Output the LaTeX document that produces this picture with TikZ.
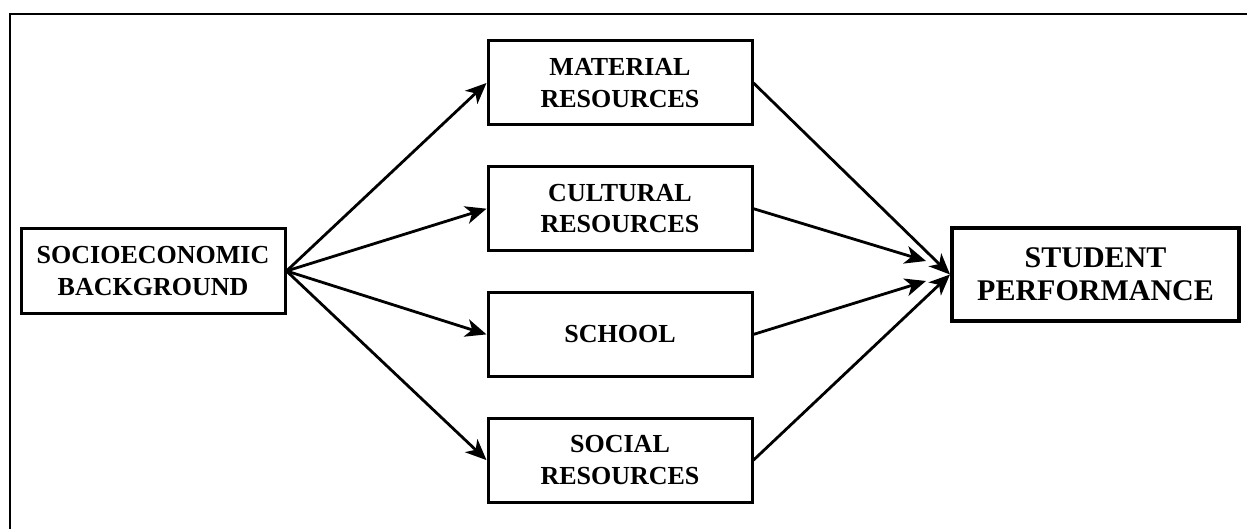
\documentclass[tikz,border=0pt]{standalone}
\usepackage{fontspec}
\setmainfont{Liberation Serif}
\usetikzlibrary{arrows.meta}
\begin{document}
\begin{tikzpicture}[x=1pt,y=-1pt,box/.style={shape=rectangle,draw=black,line width=3pt,minimum width=264pt,minimum height=84pt,inner sep=0pt,align=center,font=\fontsize{26}{31.5}\selectfont\bfseries},boxS/.style={box,line width=4pt,minimum width=287pt,minimum height=93pt,font=\fontsize{30}{33}\selectfont\bfseries},link/.style={line width=2.8pt,-{Stealth[length=21pt,width=18pt,inset=6pt]}}]
\def\dy{125.7};
\def\xl{153};
\def\xm{620};
\def\xr{1095.5};

\useasboundingbox (0,0) rectangle (1247,529);
\draw[line width=2.4pt] (1260,14) -- (10,14) -- (10,540);

\node[box] (socio) at (\xl,271) {SOCIOECONOMIC\\BACKGROUND};

\node[box] (material) at (\xm,83) {MATERIAL\\RESOURCES};
\node[box] (cultural) at (\xm,83+\dy) {CULTURAL\\RESOURCES};
\node[box] (school) at (\xm,83+2*\dy) {SCHOOL};
\node[box] (social) at (\xm,83+3*\dy) {SOCIAL\\RESOURCES};

\node[boxS] (student) at (\xr,274.5) {STUDENT\\PERFORMANCE};

\coordinate (cin) at (926,261);
\coordinate (sin) at (926,281);

\draw[link] (socio.east) -- (material.west);
\draw[link] (socio.east) -- (cultural.west);
\draw[link] (socio.east) -- (school.west);
\draw[link] (socio.east) -- (social.west);

\draw[link] (material.east) -- (student.west);
\draw[link] (cultural.east) -- (cin);
\draw[link] (school.east) -- (sin);
\draw[link] (social.east) -- (student.west);
\end{tikzpicture}
\end{document}
